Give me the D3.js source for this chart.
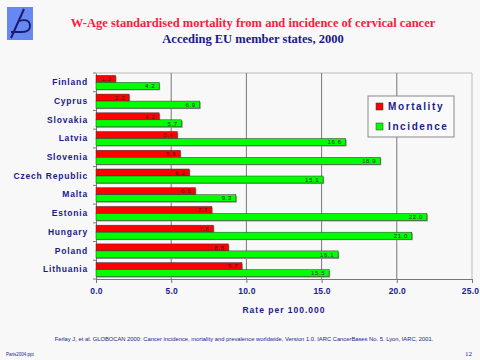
<!DOCTYPE html>
<html><head><meta charset="utf-8">
<script src="https://cdn.jsdelivr.net/npm/d3@7"></script>
<style>body{margin:0;background:#f8f8f8;}svg{display:block;}</style>
</head><body>
<script>
const countries = ["Finland","Cyprus","Slovakia","Latvia","Slovenia","Czech Republic","Malta","Estonia","Hungary","Poland","Lithuania"];
const mortality = [1.3,2.2,4.2,5.4,5.6,6.2,6.6,7.7,7.8,8.8,9.7];
const incidence = [4.2,6.9,5.7,16.6,18.9,15.1,9.3,22.0,21.0,16.1,15.5];
const xTicks = [0,5,10,15,20,25];
const seriesNames = ["Mortality","Incidence"];
const seriesColors = ["#ff0000","#00ff00"];

const W=480,H=360;
const svg=d3.select("body").append("svg").attr("width",W).attr("height",H);
svg.append("rect").attr("width",W).attr("height",H).attr("fill","#f8f8f8");

// logo
const logo=svg.append("g");
logo.append("rect").attr("x",7).attr("y",7).attr("width",26).attr("height",33).attr("fill","#6688f0");
logo.append("path").attr("d","M24,9 L11,38").attr("stroke","#1a1a6e").attr("stroke-width",2);
logo.append("path").attr("d","M19,21 Q30,18 30,26 Q30,32 22,32 L11,32")
 .attr("fill","none").attr("stroke","#1a1a6e").attr("stroke-width",1.8);

svg.append("text").attr("x",253).attr("y",27).attr("text-anchor","middle")
 .attr("font-family","Liberation Serif, serif").attr("font-weight","bold").attr("font-size",12.5)
 .attr("fill","#ff1a3c").text("W-Age standardised mortality from and incidence of cervical cancer");
svg.append("text").attr("x",253).attr("y",43).attr("text-anchor","middle")
 .attr("font-family","Liberation Serif, serif").attr("font-weight","bold").attr("font-size",12.5)
 .attr("fill","#1a1a8c").text("Acceding EU member states, 2000");

const x0=96,x1=472,y0=73,y1=279;
const x=d3.scaleLinear().domain([0,25]).range([x0,x1]);
const y=d3.scaleBand().domain(countries).range([y0,y1]);

// plot frame
svg.append("line").attr("x1",x0).attr("x2",x1).attr("y1",y0).attr("y2",y0).attr("stroke","#bbb");
svg.append("line").attr("x1",x1).attr("x2",x1).attr("y1",y0).attr("y2",y1).attr("stroke","#bbb");
// grid
svg.append("g").selectAll("line").data(xTicks.slice(1,-1)).join("line")
 .attr("x1",d=>x(d)).attr("x2",d=>x(d)).attr("y1",y0).attr("y2",y1).attr("stroke","#777").attr("stroke-width",1);

// x axis
const xa=svg.append("g").attr("transform",`translate(0,${y1})`)
 .call(d3.axisBottom(x).tickValues(xTicks).tickFormat(d3.format(".1f")).tickSize(4).tickPadding(5));
xa.select(".domain").attr("stroke","#777");
xa.selectAll(".tick line").attr("stroke","#777");
xa.selectAll("text").attr("font-family","Liberation Sans, Arial, sans-serif").attr("font-weight","bold")
 .attr("font-size",8.5).attr("fill","#1a1a8c").attr("letter-spacing",0.2);
xa.selectAll(".tick").filter(d=>d===25).select("text").attr("dx",-2);

// y axis
const ya=svg.append("g").attr("transform",`translate(${x0},0)`)
 .call(d3.axisLeft(y).tickSize(0).tickPadding(8));
ya.select(".domain").attr("stroke","#777");
ya.selectAll(".tick line").remove();
svg.append("g").selectAll("line").data(d3.range(countries.length+1)).join("line")
 .attr("x1",x0-3).attr("x2",x0).attr("y1",i=>y0+i*y.step()).attr("y2",i=>y0+i*y.step()).attr("stroke","#777");
ya.selectAll("text").attr("font-family","Liberation Sans, Arial, sans-serif").attr("font-weight","bold")
 .attr("font-size",8.5).attr("fill","#1a1a8c").attr("letter-spacing",0.8);

// bars
const bh=7;
const sets=[mortality,incidence];
sets.forEach((vals,si)=>{
  const g=svg.append("g");
  const off=y.step()/2-bh+si*bh;
  g.selectAll("rect.sh").data(countries).join("rect")
   .attr("x",x(0)+1).attr("y",(d,i)=>y(d)+off+1).attr("width",(d,i)=>x(vals[i])-x(0)).attr("height",bh)
   .attr("fill","#999");
  g.selectAll("rect.b").data(countries).join("rect")
   .attr("x",x(0)).attr("y",(d,i)=>y(d)+off).attr("width",(d,i)=>x(vals[i])-x(0)).attr("height",bh)
   .attr("fill",seriesColors[si]).attr("stroke","#333").attr("stroke-width",0.5);
  g.selectAll("text").data(countries).join("text")
   .attr("x",(d,i)=>x(vals[i])-4).attr("y",(d,i)=>y(d)+off+bh/2+2.2).attr("text-anchor","end")
   .attr("font-family","Liberation Sans, Arial, sans-serif").attr("font-size",6).attr("fill","#222")
   .attr("letter-spacing",0.6).text((d,i)=>vals[i].toFixed(1));
});

// axis title
svg.append("text").attr("x",284).attr("y",313).attr("text-anchor","middle")
 .attr("font-family","Liberation Sans, Arial, sans-serif").attr("font-weight","bold").attr("font-size",8.5)
 .attr("fill","#1a1a8c").attr("letter-spacing",1).text("Rate per 100.000");

// legend
const lg=svg.append("g");
lg.append("rect").attr("x",368).attr("y",96).attr("width",86).attr("height",41).attr("fill","#fafafa").attr("stroke","#888");
seriesNames.forEach((n,i)=>{
  lg.append("rect").attr("x",376).attr("y",103+i*20).attr("width",7).attr("height",7).attr("fill",seriesColors[i]).attr("stroke","#333").attr("stroke-width",0.5);
  lg.append("text").attr("x",388).attr("y",110+i*20).attr("font-family","Liberation Sans, Arial, sans-serif")
   .attr("font-weight","bold").attr("font-size",10).attr("fill","#1a1a8c").attr("letter-spacing",1.6).text(n);
});

// footer
svg.append("text").attr("x",244).attr("y",341).attr("text-anchor","middle")
 .attr("font-family","Liberation Sans, Arial, sans-serif").attr("font-size",5.8).attr("fill","#1a1a8c")
 .text("Ferlay J, et al. GLOBOCAN 2000: Cancer incidence, mortality and prevalence worldwide, Version 1.0. IARC CancerBases No. 5. Lyon, IARC, 2001.");
svg.append("text").attr("x",6).attr("y",356).attr("font-family","Liberation Sans, Arial, sans-serif").attr("font-size",4.5)
 .attr("fill","#1a1a8c").text("Paris2004.ppt");
svg.append("text").attr("x",472).attr("y",356).attr("text-anchor","end").attr("font-family","Liberation Serif, serif").attr("font-size",7)
 .attr("fill","#1a1a8c").text("12");
</script>
</body></html>
